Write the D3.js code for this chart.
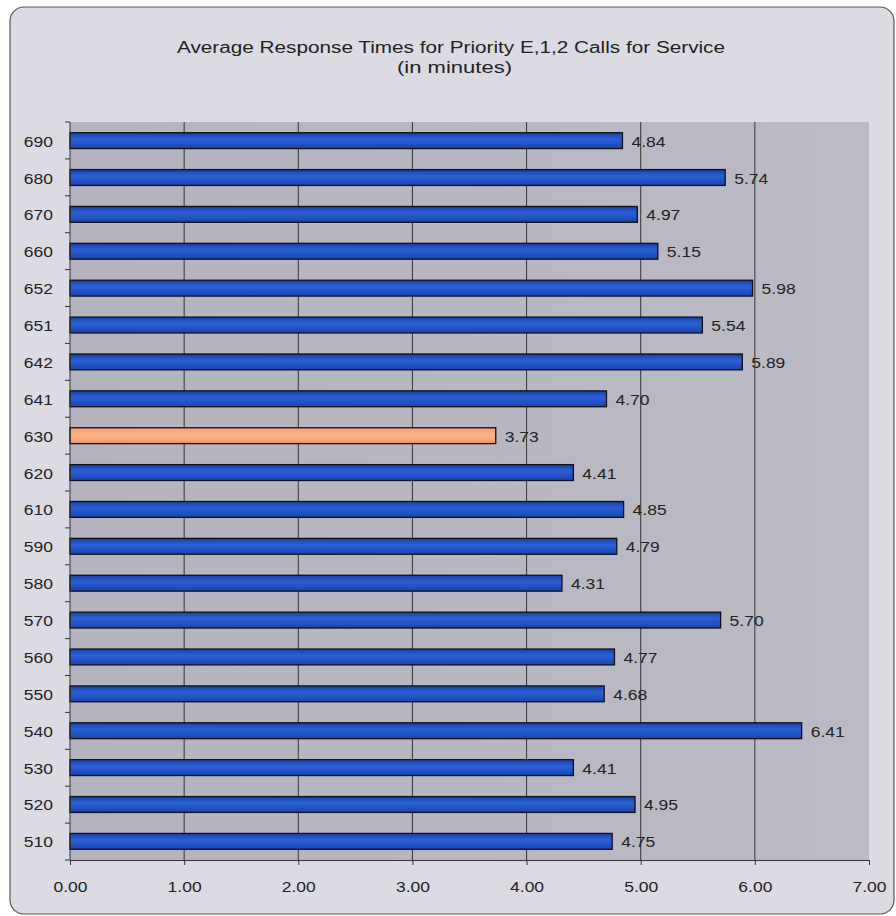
<!DOCTYPE html>
<html>
<head>
<meta charset="utf-8">
<script src="https://cdn.jsdelivr.net/npm/d3@7"></script>
<style>
  body { margin: 0; background: #ffffff; }
  text { font-family: "Liberation Sans", Arial, sans-serif; fill: #222; }
</style>
</head>
<body>
<div id="chart"></div>
<script>
const width = 896, height = 916;

// data, top to bottom as drawn
const beats = ["690", "680", "670", "660", "652", "651", "642", "641", "630", "620",
               "610", "590", "580", "570", "560", "550", "540", "530", "520", "510"];
const times = [4.84, 5.74, 4.97, 5.15, 5.98, 5.54, 5.89, 4.70, 3.73, 4.41,
               4.85, 4.79, 4.31, 5.70, 4.77, 4.68, 6.41, 4.41, 4.95, 4.75];
const highlight = "630";
const xTicks = [0, 1, 2, 3, 4, 5, 6, 7];

const plot = {left: 70, right: 869, top: 122, bottom: 860};
const stretch = 1.13; // the original text looks a bit wide

const svg = d3.select("#chart")
    .append("svg")
    .attr("width", width)
    .attr("height", height);

const defs = svg.append("defs");

// plot background
const bg = defs.append("linearGradient").attr("id", "plotbg")
    .attr("x1", 0).attr("x2", 1).attr("y1", 0).attr("y2", 0);
bg.append("stop").attr("offset", "0%").attr("stop-color", "#b5b4be");
bg.append("stop").attr("offset", "100%").attr("stop-color", "#bcbbc5");

// bar gradients (vertical shading)
const blue = defs.append("linearGradient").attr("id", "bluebar")
    .attr("x1", 0).attr("x2", 0).attr("y1", 0).attr("y2", 1);
blue.append("stop").attr("offset", "0%").attr("stop-color", "#1a3fa8");
blue.append("stop").attr("offset", "40%").attr("stop-color", "#2a60d6");
blue.append("stop").attr("offset", "100%").attr("stop-color", "#1b44b0");

const orange = defs.append("linearGradient").attr("id", "orangebar")
    .attr("x1", 0).attr("x2", 0).attr("y1", 0).attr("y2", 1);
orange.append("stop").attr("offset", "0%").attr("stop-color", "#f4a072");
orange.append("stop").attr("offset", "50%").attr("stop-color", "#fbb487");
orange.append("stop").attr("offset", "100%").attr("stop-color", "#f09868");

// outer frame
svg.append("rect")
    .attr("x", 10).attr("y", 7)
    .attr("width", 884).attr("height", 907)
    .attr("rx", 14)
    .attr("fill", "#dcdbe4")
    .attr("stroke", "#555")
    .attr("stroke-width", 1.2);

// title
svg.append("text")
    .attr("x", 177).attr("y", 53)
    .attr("textLength", 548)
    .attr("lengthAdjust", "spacingAndGlyphs")
    .attr("font-size", 16)
    .attr("fill", "#333")
    .text("Average Response Times for Priority E,1,2 Calls for Service");
svg.append("text")
    .attr("x", 397).attr("y", 73)
    .attr("textLength", 115)
    .attr("lengthAdjust", "spacingAndGlyphs")
    .attr("font-size", 16)
    .attr("fill", "#333")
    .text("(in minutes)");

// scales
const x = d3.scaleLinear().domain([0, 7]).range([plot.left, plot.right]);
const y = d3.scaleBand().domain(beats).range([plot.top, plot.bottom]).paddingInner(0.57).paddingOuter(0.29);

// plot area
svg.append("rect")
    .attr("x", plot.left).attr("y", plot.top)
    .attr("width", plot.right - plot.left)
    .attr("height", plot.bottom - plot.top)
    .attr("fill", "url(#plotbg)");

// gridlines
svg.append("g")
    .selectAll("line")
    .data(xTicks.slice(1, -1))
    .enter()
    .append("line")
    .attr("x1", d => x(d)).attr("x2", d => x(d))
    .attr("y1", plot.top).attr("y2", plot.bottom)
    .attr("stroke", "#333")
    .attr("stroke-width", 1);

// bars
svg.append("g")
    .selectAll("rect")
    .data(beats)
    .enter()
    .append("rect")
    .attr("x", x(0))
    .attr("y", d => y(d))
    .attr("width", (d, i) => x(times[i]) - x(0))
    .attr("height", y.bandwidth())
    .attr("fill", d => d === highlight ? "url(#orangebar)" : "url(#bluebar)")
    .attr("stroke", "#111")
    .attr("stroke-width", 1.3);

// value labels
svg.append("g")
    .selectAll("text")
    .data(beats)
    .enter()
    .append("text")
    .attr("transform", (d, i) => `translate(${x(times[i]) + 9},${y(d) + y.bandwidth() / 2 + 6}) scale(${stretch},1)`)
    .attr("font-size", 15.5)
    .text((d, i) => times[i].toFixed(2));

// y axis
const yAxis = svg.append("g").attr("transform", `translate(${plot.left},0)`);
yAxis.append("line")
    .attr("x1", 0).attr("x2", 0)
    .attr("y1", plot.top).attr("y2", plot.bottom)
    .attr("stroke", "#333");
yAxis.selectAll("line.tick")
    .data(d3.range(beats.length + 1))
    .enter()
    .append("line")
    .attr("class", "tick")
    .attr("x1", -5).attr("x2", 0)
    .attr("y1", i => plot.top + i * (plot.bottom - plot.top) / beats.length)
    .attr("y2", i => plot.top + i * (plot.bottom - plot.top) / beats.length)
    .attr("stroke", "#333");
yAxis.selectAll("text")
    .data(beats)
    .enter()
    .append("text")
    .attr("transform", d => `translate(-17,${y(d) + y.bandwidth() / 2 + 6}) scale(${stretch},1)`)
    .attr("text-anchor", "end")
    .attr("font-size", 15.5)
    .text(d => d);

// x axis
const xAxis = svg.append("g")
    .attr("transform", `translate(0,${plot.bottom})`)
    .call(d3.axisBottom(x).tickValues(xTicks).tickFormat(d3.format(".2f")).tickSize(5).tickSizeOuter(0));
xAxis.select(".domain").attr("stroke", "#333");
xAxis.selectAll(".tick line").attr("stroke", "#333");
xAxis.selectAll(".tick text")
    .attr("font-size", 15.5)
    .attr("font-family", "Liberation Sans, Arial, sans-serif")
    .attr("fill", "#222")
    .attr("y", 0)
    .attr("dy", 0)
    .attr("transform", `translate(0,32) scale(${stretch},1)`);
</script>
</body>
</html>
